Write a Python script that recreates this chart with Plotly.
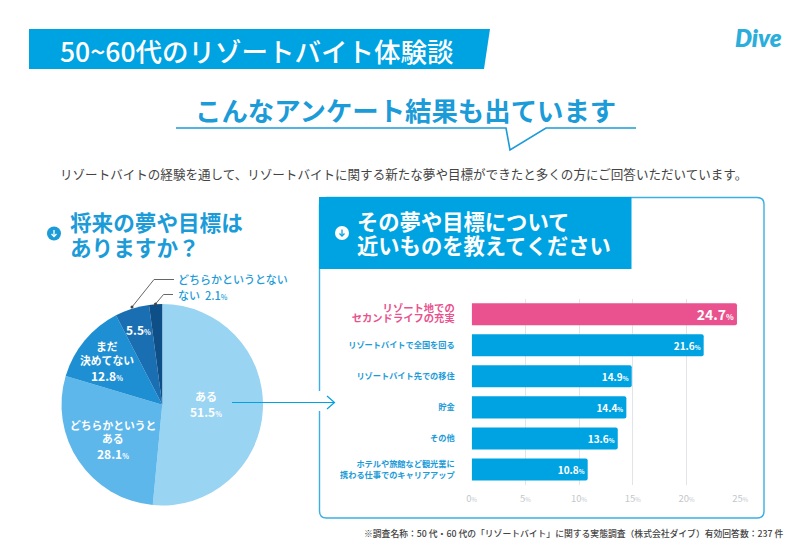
import plotly.graph_objects as go

W, H = 800, 560
JP = "Noto Sans CJK JP"
BLUE = "#00A3E2"
TEXTBLUE = "#1B9BD8"
PINK = "#E9528E"

pie_labels = ["ある", "どちらかというとある", "まだ決めてない", "どちらかというとない", "ない"]
pie_values = [51.5, 28.1, 12.8, 5.5, 2.1]
pie_colors = ["#99D4F2", "#5DB7EB", "#1F8FD3", "#1A6FB3", "#0F4F88"]

bar_categories = ["リゾート地での<br>セカンドライフの充実", "リゾートバイトで全国を回る", "リゾートバイト先での移住",
                  "貯金", "その他", "ホテルや旅館など観光業に<br>携わる仕事でのキャリアアップ"]
bar_values = [24.7, 21.6, 14.9, 14.4, 13.6, 10.8]
x_ticks = [0, 5, 10, 15, 20, 25]


def px(x):
    return x / W


def py(y):
    return 1 - y / H


def pct(v, size):
    return f"{v}<span style='font-size:{size}px'>%</span>"


def path(points, close=True):
    d = "M " + " L ".join(f"{px(x):.5f},{py(y):.5f}" for x, y in points)
    return d + (" Z" if close else "")


def shape_path(points, fill=None, line=None, width=0, close=True):
    return dict(type="path", xref="paper", yref="paper", path=path(points, close),
                fillcolor=fill if fill else "rgba(0,0,0,0)",
                line=dict(color=line if line else "rgba(0,0,0,0)", width=width), layer="above")


def round_rect(x0, y0, x1, y1, r, **kw):
    X0, X1, Y0, Y1 = px(x0), px(x1), py(y0), py(y1)
    rx, ry = r / W, r / H
    d = (f"M {X0+rx},{Y0} L {X1-rx},{Y0} Q {X1},{Y0} {X1},{Y0-ry} L {X1},{Y1+ry} Q {X1},{Y1} {X1-rx},{Y1} "
         f"L {X0+rx},{Y1} Q {X0},{Y1} {X0},{Y1+ry} L {X0},{Y0-ry} Q {X0},{Y0} {X0+rx},{Y0} Z")
    return dict(type="path", xref="paper", yref="paper", path=d, layer=kw.get("layer", "below"),
                fillcolor=kw.get("fill", "rgba(0,0,0,0)"),
                line=dict(color=kw.get("line", "rgba(0,0,0,0)"), width=kw.get("width", 0)))


def circle(cx, cy, r, fill):
    return dict(type="circle", xref="paper", yref="paper", x0=px(cx - r), x1=px(cx + r),
                y0=py(cy + r), y1=py(cy - r), fillcolor=fill, line=dict(width=0), layer="above")


def txt(x, y, s, size, color, anchor="center", weight=700, family=JP):
    return dict(x=px(x), y=py(y), xref="paper", yref="paper", text=s, showarrow=False,
                xanchor=anchor, yanchor="middle", align=anchor if anchor != "center" else "center",
                font=dict(size=size, color=color, family=family, weight=weight))


fig = go.Figure()

fig.add_trace(go.Pie(
    labels=pie_labels, values=pie_values, sort=False, direction="clockwise", rotation=0,
    marker=dict(colors=pie_colors, line=dict(width=0)), textinfo="none", showlegend=False,
    hoverinfo="label+percent", domain=dict(x=[px(61.5), px(263)], y=[py(505.5), py(304)]),
))

bar_text = [pct(v, 8 if i == 0 else 6) for i, v in enumerate(bar_values)]
fig.add_trace(go.Bar(
    y=bar_categories, x=bar_values, orientation="h",
    marker=dict(color=[PINK] + [BLUE] * 5, line=dict(width=0)),
    text=bar_text, textposition="inside", insidetextanchor="end", textangle=0, constraintext="none",
    insidetextfont=dict(color="white", size=[14, 10, 10, 10, 10, 10], family=JP, weight=700),
    showlegend=False, xaxis="x", yaxis="y",
))

tick_text = [f"<span style='color:{PINK};font-size:10.3px'>リゾート地での</span><br><span style='color:{PINK};font-size:10.3px'>セカンドライフの充実</span>"] + bar_categories[1:]

shapes = [
    # title banner
    shape_path([(29, 29), (490, 29), (484, 69), (29, 69)], fill=BLUE),
    # speech underline
    shape_path([(176, 128), (506, 128), (510, 150), (546, 128), (636, 128)], line=TEXTBLUE, width=1.6, close=False),
    # right panel
    round_rect(319.5, 197.5, 764, 518, 7, fill="white", line="#3BAEE3", width=1.4),
    shape_path([(319, 203), (319, 197), (631.5, 197), (631.5, 269), (319, 269)], fill=BLUE),
    shape_path([(319.5, 391), (319.5, 411)], line="white", width=3, close=False),
    # arrow pie -> panel
    shape_path([(232, 402.5), (334, 402.5)], line=BLUE, width=1.2, close=False),
    shape_path([(327, 396), (334.5, 402.5), (327, 409)], line=BLUE, width=1.2, close=False),
    # icons
    circle(54, 233.5, 7, "#1B9BD8"),
    shape_path([(54, 230), (54, 236.5)], line="white", width=1.3, close=False),
    shape_path([(51.5, 234), (54, 236.5), (56.5, 234)], line="white", width=1.3, close=False),
    circle(342, 233, 7, "white"),
    shape_path([(342, 229.5), (342, 236)], line=BLUE, width=1.3, close=False),
    shape_path([(339.5, 233.5), (342, 236), (344.5, 233.5)], line=BLUE, width=1.3, close=False),
    # pie leaders
    shape_path([(132, 307), (154, 279.5), (174, 279.5)], line="#666666", width=1, close=False),
    shape_path([(155.5, 304), (163.5, 294.5), (173, 294.5)], line="#666666", width=1, close=False),
    circle(132, 307, 1.5, "#444444"),
    circle(155.5, 304, 1.5, "#444444"),
]

annots = [
    txt(257, 50, "50~60代のリゾートバイト体験談", 26.5, "white", weight=500),
    txt(758.5, 38, "<i>Dive</i>", 24, "#2BAEDB", weight=800, family="Lato"),
    txt(405, 110, "こんなアンケート結果も出ています", 26.4, TEXTBLUE),
    txt(403, 173, "リゾートバイトの経験を通して、リゾートバイトに関する新たな夢や目標ができたと多くの方にご回答いただいています。", 12.55, "#444444", weight=400),
    txt(68, 221.5, "将来の夢や目標は", 21.6, TEXTBLUE, "left"),
    txt(68, 246, "ありますか？", 21.6, TEXTBLUE, "left"),
    txt(355, 220.5, "その夢や目標について", 21.3, "white", "left"),
    txt(355, 244.5, "近いものを教えてください", 21.3, "white", "left"),
    txt(574, 533, "※調査名称：50 代・60 代の「リゾートバイト」に関する実態調査（株式会社ダイブ）有効回答数：237 件", 8.8, "#444444", weight=500),
    # pie labels
    txt(206, 395.5, pie_labels[0], 11, "white"),
    txt(206, 411.5, pct(pie_values[0], 7), 12, "white"),
    txt(113, 424.5, "どちらかというと", 10.8, "white"),
    txt(113, 437.5, "ある", 10.8, "white"),
    txt(113, 453, pct(pie_values[1], 7), 12, "white"),
    txt(106.5, 346, "まだ", 10.8, "white"),
    txt(106.5, 359.5, "決めてない", 10.8, "white"),
    txt(106.5, 375.5, pct(pie_values[2], 7), 12, "white"),
    txt(138, 329, pct(pie_values[3], 7), 12, "white"),
    txt(175.5, 278.5, pie_labels[3], 11, TEXTBLUE, "left", weight=500),
    txt(175.5, 295, f"{pie_labels[4]}  {pct(pie_values[4], 7)}", 11, TEXTBLUE, "left", weight=500),
]

fig.update_layout(
    width=W, height=H, margin=dict(l=0, r=0, t=0, b=0), autosize=False,
    paper_bgcolor="white", plot_bgcolor="rgba(0,0,0,0)",
    bargap=0.29, barcornerradius=2, shapes=shapes, annotations=annots,
    font=dict(family=JP),
    xaxis=dict(domain=[px(471.7), px(740.2)], range=[0, 25], tickvals=x_ticks, automargin=False,
               ticktext=[f"{t}<span style='font-size:6px'>%</span>" for t in x_ticks],
               showgrid=True, gridcolor="#E2E4E7", gridwidth=1.4, zeroline=False, showline=False,
               ticks="", tickfont=dict(size=9.5, color="#C4C8CC", family=JP), anchor="y", ticklabelstandoff=6),
    yaxis=dict(domain=[py(485), py(298.7)], categoryorder="array", categoryarray=bar_categories, automargin=False,
               autorange="reversed", tickmode="array", tickvals=bar_categories, ticktext=tick_text,
               showgrid=False, zeroline=False, showline=False, ticks="", ticklabelstandoff=16,
               tickfont=dict(size=8.2, color=TEXTBLUE, family=JP, weight=700), anchor="x"),
)

fig.write_html("out.html", config=dict(displayModeBar=False),
               post_script="document.body.style.margin='0';document.body.style.overflow='hidden';")
